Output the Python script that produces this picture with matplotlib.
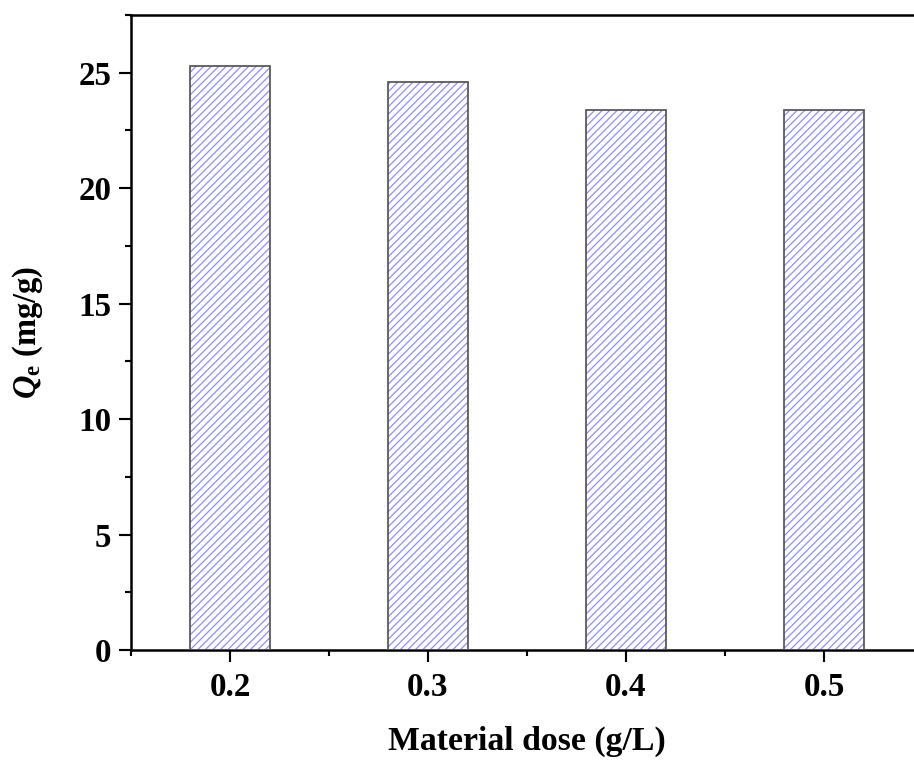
import matplotlib
matplotlib.use("Agg")
import matplotlib.pyplot as plt
from matplotlib.ticker import MultipleLocator

# values
dose = [0.2, 0.3, 0.4, 0.5]          # g/L
qe = [25.3, 24.6, 23.4, 23.4]        # mg/g
xticks = [0.2, 0.3, 0.4, 0.5]
xticklabels = ["0.2", "0.3", "0.4", "0.5"]

DPI = 90
plt.rcParams["font.family"] = ["Liberation Serif", "DejaVu Serif"]
plt.rcParams["font.weight"] = "bold"
plt.rcParams["mathtext.fontset"] = "custom"
plt.rcParams["mathtext.it"] = "Liberation Serif:italic:bold"
plt.rcParams["mathtext.rm"] = "Liberation Serif:bold"
plt.rcParams["mathtext.bf"] = "Liberation Serif:bold"
plt.rcParams["hatch.linewidth"] = 1.0

fig = plt.figure(figsize=(914 / DPI, 761 / DPI), dpi=DPI)
ax = fig.add_axes([0.1433, 0.1459, 1.0098 - 0.1433, 0.9803 - 0.1459])

# hatch in light blue, outline in dark grey (two passes)
ax.bar(dose, qe, width=0.04, color="white", edgecolor="#8e8ef4",
       hatch="////", linewidth=0, zorder=2)
ax.bar(dose, qe, width=0.04, fill=False, edgecolor="#555555",
       linewidth=1.4, zorder=3)

ax.set_xlim(0.15, 0.55)
ax.set_ylim(0, 27.5)
ax.set_xticks(xticks)
ax.set_xticklabels(xticklabels)
ax.xaxis.set_minor_locator(MultipleLocator(0.05))
ax.yaxis.set_major_locator(MultipleLocator(5))
ax.yaxis.set_minor_locator(MultipleLocator(2.5))

ax.spines["right"].set_visible(False)
for s in ["left", "bottom", "top"]:
    ax.spines[s].set_linewidth(2.0)
ax.tick_params(which="major", direction="out", length=9.5, width=1.7,
               labelsize=26.5, pad=6)
ax.tick_params(axis="x", which="major", pad=8)
ax.tick_params(which="minor", direction="out", length=5, width=1.7)
ax.tick_params(axis="y", which="both", right=False)
ax.tick_params(axis="x", which="both", top=False)

ax.set_xlabel("Material dose (g/L)", fontsize=27, fontweight="bold")
ax.set_ylabel(r"$\mathit{Q}_{\mathrm{e}}$ (mg/g)", fontsize=26,
              fontweight="bold")
ax.xaxis.set_label_coords(0.5, -0.12)
ax.yaxis.set_label_coords(-0.108, 0.5)

fig.savefig("out.png", dpi=DPI)
